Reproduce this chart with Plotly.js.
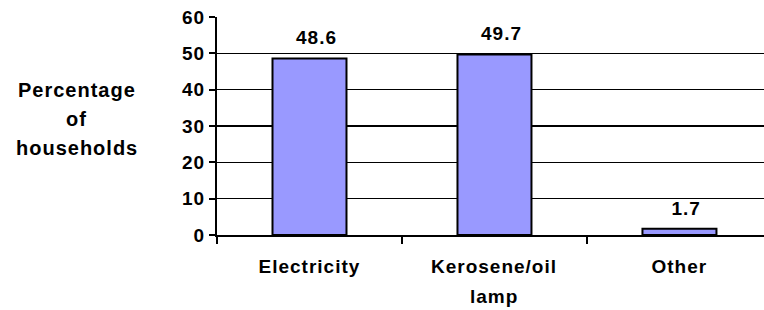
<!DOCTYPE html>
<html>
<head>
<meta charset="utf-8">
<script src="https://cdn.plot.ly/plotly-3.0.1.min.js"></script>
<style>
html,body{margin:0;padding:0;background:#fff;}
#chart text{letter-spacing:1px;}
</style>
</head>
<body>
<div id="chart" style="width:764px;height:310px;"></div>
<script>
const categories = ['Electricity', 'Kerosene/oil<br>lamp', 'Other'];
const values = [48.6, 49.7, 1.7];
const valueLabels = ['48.6', '49.7', '1.7'];
const yTitleLines = ['Percentage', 'of', 'households'];
const yTicks = [0, 10, 20, 30, 40, 50, 60];

const FONT = 'Liberation Sans, Arial, sans-serif';

const annotations = [];
// data labels
categories.forEach((c, i) => {
  annotations.push({
    x: c, y: values[i], xref: 'x', yref: 'y',
    text: '<b>' + valueLabels[i] + '</b>', showarrow: false,
    xanchor: 'center', yanchor: 'bottom', yshift: 8, xshift: 7,
    font: {family: FONT, size: 19, color: '#000'}
  });
});
// category labels (multi-line with wide spacing)
categories.forEach((c) => {
  c.split('<br>').forEach((line, j) => {
    annotations.push({
      x: c, y: 0, xref: 'x', yref: 'paper',
      text: '<b>' + line + '</b>', showarrow: false,
      xanchor: 'center', yanchor: 'middle', yshift: -31.5 - 29.5 * j,
      font: {family: FONT, size: 19, color: '#000'}
    });
  });
});
// y-axis title lines
yTitleLines.forEach((line, j) => {
  annotations.push({
    x: 0, y: 1, xref: 'paper', yref: 'paper',
    text: '<b>' + line + '</b>', showarrow: false,
    xanchor: 'center', yanchor: 'middle', xshift: -140.5, yshift: -(90 - 17) - 29.2 * j,
    font: {family: FONT, size: 20, color: '#000'}
  });
});

const data = [{
  type: 'bar',
  x: categories,
  y: values,
  width: 0.4,
  marker: {color: '#9999FF', line: {color: '#000', width: 2}},
  hoverinfo: 'none'
}];

const layout = {
  width: 764, height: 310,
  margin: {l: 217, r: 0, t: 17, b: 75},
  paper_bgcolor: '#fff', plot_bgcolor: '#fff',
  showlegend: false,
  font: {family: FONT, color: '#000'},
  xaxis: {
    type: 'category',
    range: [-0.5, 2.457],
    showticklabels: false,
    ticks: 'outside', tickson: 'boundaries', ticklen: 7, tickwidth: 2, tickcolor: '#000',
    showline: true, linecolor: '#000', linewidth: 2,
    showgrid: false, zeroline: false, fixedrange: true
  },
  yaxis: {
    range: [0, 60],
    tickvals: yTicks,
    ticktext: yTicks.map(v => '<b>' + v + '</b>'),
    tickfont: {family: FONT, size: 19, color: '#000'},
    ticks: 'outside', ticklen: 6, tickwidth: 2, tickcolor: '#000',
    showline: true, linecolor: '#000', linewidth: 2,
    showgrid: true, gridcolor: '#000', gridwidth: 1.5,
    zeroline: false, fixedrange: true
  },
  annotations: annotations
};

Plotly.newPlot('chart', data, layout, {displayModeBar: false, staticPlot: true});
</script>
</body>
</html>
